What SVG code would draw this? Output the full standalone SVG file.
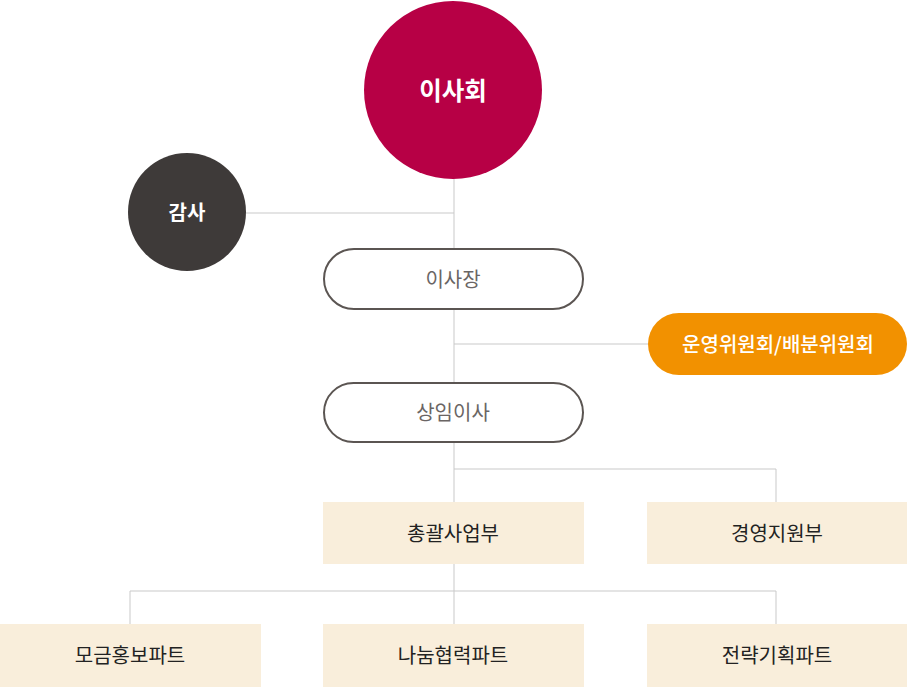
<svg xmlns="http://www.w3.org/2000/svg" width="907" height="687" viewBox="0 0 907 687">
<style>
text{font-family:"Noto Sans CJK KR","Noto Sans",sans-serif;text-anchor:middle;dominant-baseline:central}
.line{stroke:#c9c9c9;stroke-width:1;fill:none}
.pill{fill:#fff;stroke:#5b5552;stroke-width:2}
.pt{fill:#6a6564;font-size:20px}
.box{fill:#f9eedb}
.bt{fill:#222;font-size:20px}
</style>
<rect width="907" height="687" fill="#fff"/>
<g id="connectors">
<path class="line" d="M454 178V502M246 213H454M454 344H648M454 469H776V502M454 563V624M130 624V591H776V624"/>
</g>
<g id="n-board"><circle cx="453" cy="90" r="89" fill="#b70045"/><text x="453" y="89" fill="#fff" font-size="24.5" font-weight="bold">이사회</text></g>
<g id="n-audit"><circle cx="187" cy="212" r="59" fill="#3e3a39"/><text x="187" y="211" fill="#fff" font-size="20" font-weight="bold">감사</text></g>
<g id="n-chair"><rect class="pill" x="324" y="249" width="259" height="60" rx="30"/><text class="pt" x="453" y="278">이사장</text></g>
<g id="n-committee"><rect x="648" y="313" width="259" height="62" rx="31" fill="#f29100"/><text x="778" y="343" fill="#fff" font-size="20" font-weight="500">운영위원회/배분위원회</text></g>
<g id="n-director"><rect class="pill" x="324" y="383" width="259" height="59" rx="29.5"/><text class="pt" x="453" y="411">상임이사</text></g>
<g id="n-business"><rect class="box" x="323" y="502" width="261" height="62"/><text class="bt" x="453" y="532">총괄사업부</text></g>
<g id="n-management"><rect class="box" x="647" y="502" width="260" height="62"/><text class="bt" x="777" y="532">경영지원부</text></g>
<g id="n-fundraising"><rect class="box" x="0" y="624" width="261" height="63"/><text class="bt" x="130" y="654">모금홍보파트</text></g>
<g id="n-sharing"><rect class="box" x="323" y="624" width="261" height="63"/><text class="bt" x="453" y="654">나눔협력파트</text></g>
<g id="n-strategy"><rect class="box" x="647" y="624" width="260" height="63"/><text class="bt" x="777" y="654">전략기획파트</text></g>
</svg>
